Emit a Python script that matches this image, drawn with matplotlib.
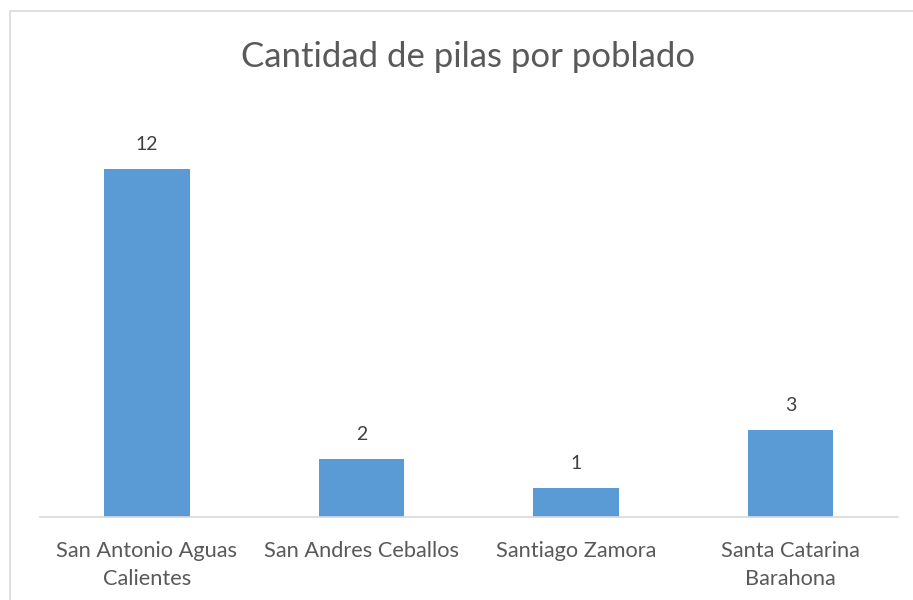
import matplotlib
matplotlib.use('Agg')
import matplotlib.pyplot as plt
from matplotlib.patches import Rectangle

poblados = ['San Antonio Aguas\nCalientes', 'San Andres Ceballos', 'Santiago Zamora', 'Santa Catarina\nBarahona']
pilas = [12, 2, 1, 3]

plt.rcParams['font.family'] = ['Lato', 'DejaVu Sans']
gris = '#595959'

fig = plt.figure(figsize=(9.13, 6), dpi=100)
ax = fig.add_axes([39.75/913, 83/600, 858/913, 406/600])

x = range(len(poblados))
bars = ax.bar(x, pilas, width=0.4, color='#5B9BD5', zorder=2)
for b, v in zip(bars, pilas):
    ax.text(b.get_x() + b.get_width()/2, v + 0.55, str(v), ha='center', va='bottom',
            fontsize=14, color='#404040')

ax.set_xlim(-0.5, 3.5)
ax.set_ylim(0, 14)
ax.set_xticks(list(x))
ax.set_xticklabels(poblados, fontsize=15.7, color=gris, linespacing=1.5)
ax.tick_params(axis='x', length=0, pad=17)
ax.set_yticks([])
for s in ['top', 'right', 'left']:
    ax.spines[s].set_visible(False)
ax.spines['bottom'].set_color('#D9D9D9')
ax.spines['bottom'].set_linewidth(1.2)

fig.text(468/913, 1 - 57/600, 'Cantidad de pilas por poblado', ha='center', va='center',
         fontsize=25, color=gris)

# chart border
fig.patches.append(Rectangle((10/913, -0.1), 1.2, 1 - 11/600 + 0.1, transform=fig.transFigure,
                             fill=False, edgecolor='#D9D9D9', linewidth=1.2))

fig.savefig('out.png', dpi=100)
